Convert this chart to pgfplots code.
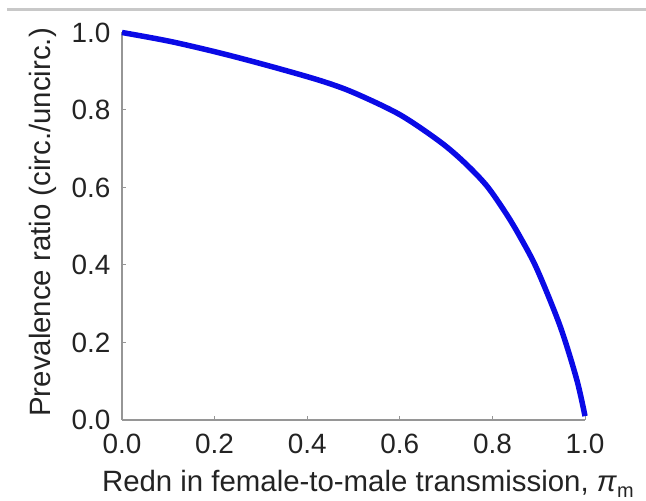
\documentclass[border=0pt]{standalone}
\usepackage{pgfplots}
\pgfplotsset{compat=1.18}
\usepackage{fontspec}
\setmainfont{Liberation Sans}
\definecolor{curve}{RGB}{10,10,230}
\definecolor{spine}{RGB}{150,150,150}
\definecolor{txt}{RGB}{35,35,35}
\definecolor{frame}{RGB}{200,200,200}
\begin{document}
\begin{tikzpicture}[x=1bp,y=1bp]
\useasboundingbox (0,0) rectangle (646,501);
\draw[color=frame, line width=2.2bp] (7,491.5) -- (646,491.5);
\begin{axis}[
  at={(122bp,81bp)}, anchor=south west,
  scale only axis, width=463bp, height=387.5bp,
  xmin=0, xmax=1, ymin=0, ymax=1,
  axis x line*=bottom, axis y line*=left,
  axis line style={spine, line width=1.4bp},
  tick style={spine, line width=1bp},
  tick align=inside, major tick length=4bp,
  xtick={0,0.2,0.4,0.6,0.8,1.0},
  ytick={0,0.2,0.4,0.6,0.8,1.0},
  /pgf/number format/assume math mode=true,
  /pgf/number format/.cd, fixed, fixed zerofill, precision=1, /pgfplots/.cd,
  ticklabel style={font=\fontsize{28}{32}\selectfont, text=txt},
  xticklabel style={yshift=-11bp},
  yticklabel style={xshift=-8bp},
  label style={font=\fontsize{29.5}{34}\selectfont, text=txt},
  xlabel={Redn in female-to-male transmission, \textit{π}\raisebox{-0.35ex}{\fontsize{20}{22}\selectfont m}},
  xlabel style={at={(axis description cs:0.531,0)}, anchor=base, yshift=-72bp},
  ylabel={Prevalence ratio (circ./uncirc.)},
  ylabel style={at={(axis description cs:-0.1555,0.51)}, anchor=base},
  clip=false,
]
\addplot[curve, line width=5.5bp, smooth, tension=0.5] coordinates {
(0.000,1.000)
(0.104,0.977)
(0.212,0.947)
(0.320,0.913)
(0.428,0.876)
(0.500,0.845)
(0.600,0.788)
(0.687,0.718)
(0.740,0.664)
(0.788,0.604)
(0.830,0.532)
(0.860,0.472)
(0.896,0.390)
(0.946,0.243)
(0.982,0.105)
(1.000,0.010)
};
\end{axis}
\end{tikzpicture}
\end{document}
